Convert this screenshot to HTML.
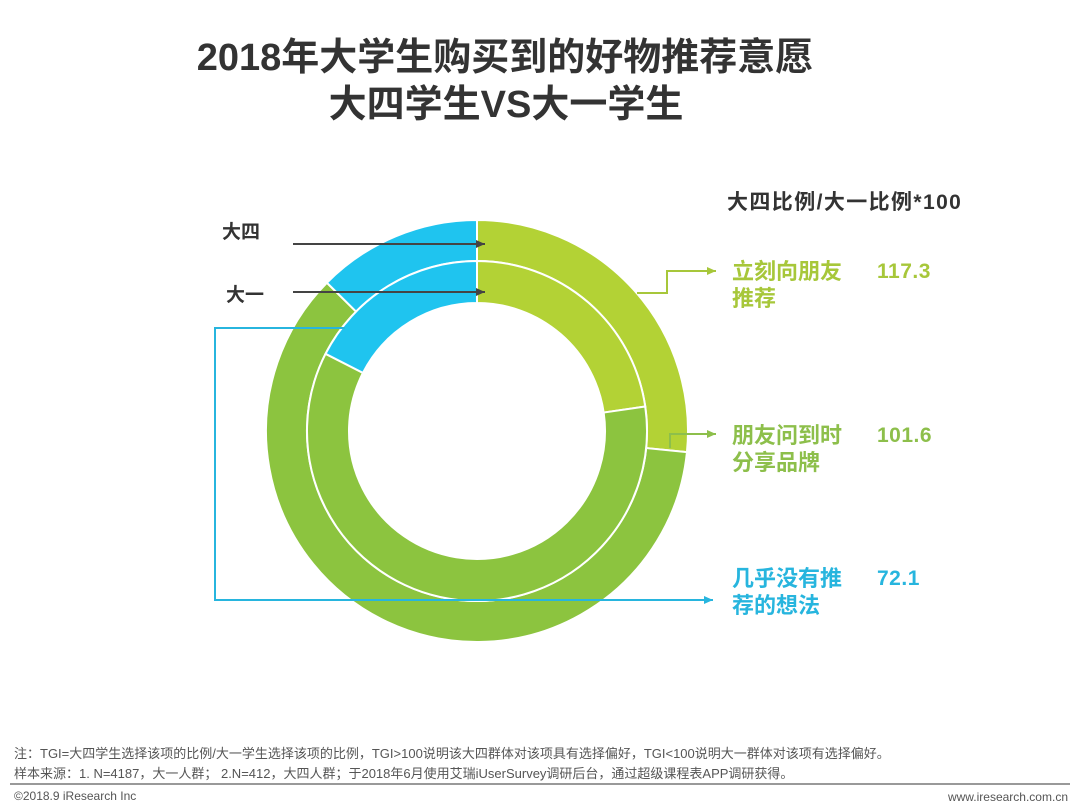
<!DOCTYPE html>
<html><head><meta charset="utf-8">
<style>
body{margin:0;background:#fff;}
#root{position:relative;width:1080px;height:809px;overflow:hidden;font-family:"Liberation Sans","Noto Sans CJK SC",sans-serif;}
.t{position:absolute;white-space:nowrap;}
</style></head>
<body>
<div id="root">
<div class="t" style="left:0;width:1010px;text-align:center;top:26px;font-size:38px;font-weight:bold;color:#333;">2018年大学生购买到的好物推荐意愿</div>
<div class="t" style="left:0;width:1012px;text-align:center;top:73px;font-size:38px;font-weight:bold;color:#333;">大四学生VS大一学生</div>
<div class="t" style="left:727px;top:186px;font-size:21px;letter-spacing:1.4px;font-weight:bold;color:#333;">大四比例/大一比例*100</div>
<div class="t" style="left:222px;top:217px;font-size:19px;font-weight:bold;color:#333;">大四</div>
<div class="t" style="left:226px;top:280px;font-size:19px;font-weight:bold;color:#333;">大一</div>
<svg id="chart" width="1080" height="809" style="position:absolute;left:0;top:0;"></svg>
<div id="labels"></div>
<div class="t" style="left:14px;top:743px;font-size:13px;color:#555;">注：TGI=大四学生选择该项的比例/大一学生选择该项的比例，TGI&gt;100说明该大四群体对该项具有选择偏好，TGI&lt;100说明大一群体对该项有选择偏好。</div>
<div class="t" style="left:14px;top:763px;font-size:13px;color:#555;">样本来源：1. N=4187，大一人群； 2.N=412，大四人群；于2018年6月使用艾瑞iUserSurvey调研后台，通过超级课程表APP调研获得。</div>
<div style="position:absolute;left:10px;top:783px;width:1060px;height:2px;background:#999;"></div>
<div class="t" style="left:14px;top:789px;font-size:12px;color:#555;">©2018.9 iResearch Inc</div>
<div class="t" style="right:12px;top:790px;font-size:12px;color:#555;">www.iresearch.com.cn</div>
</div>
<script>
const categories = ["立刻向朋友推荐", "朋友问到时分享品牌", "几乎没有推荐的想法"];
const labelLine1 = ["立刻向朋友", "朋友问到时", "几乎没有推"];
const labelLine2 = ["推荐", "分享品牌", "荐的想法"];
const seniorShare = [26.6, 60.8, 12.6];
const freshmanShare = [22.7, 59.8, 17.5];
const tgiLabels = ["117.3", "101.6", "72.1"];

const colors = ["#b3d235", "#8cc43f", "#1fc4ef"];
const textColors = ["#a7c73a", "#8dbf4b", "#27b5de"];
const cx = 477, cy = 431;
const svg = document.getElementById('chart');
const NS = 'http://www.w3.org/2000/svg';
function pt(r, a){ return [cx + r*Math.sin(a), cy - r*Math.cos(a)]; }
function arc(r0, r1, a0, a1){
  const large = (a1-a0) > Math.PI ? 1 : 0;
  const p0=pt(r1,a0), p1=pt(r1,a1), p2=pt(r0,a1), p3=pt(r0,a0);
  return `M${p0}A${r1},${r1} 0 ${large} 1 ${p1}L${p2}A${r0},${r0} 0 ${large} 0 ${p3}Z`;
}
function ring(vals, r0, r1, nm){
  const tot = vals.reduce((a,b)=>a+b,0);
  let a = 0;
  vals.forEach((v,i)=>{
    const a1 = a + v/tot*2*Math.PI;
    const p = document.createElementNS(NS,'path');
    p.setAttribute('d', arc(r0,r1,a,a1));
    p.setAttribute('fill', colors[i]);
    p.setAttribute('stroke', '#fff');
    p.setAttribute('stroke-width', '2');
    
    
    svg.appendChild(p);
    a = a1;
  });
}
ring(seniorShare, 170, 211, 'senior');
ring(freshmanShare, 128, 170, 'freshman');

function line(pts, color, nm){
  const pl = document.createElementNS(NS,'polyline');
  pl.setAttribute('points', pts.map(p=>p.join(',')).join(' '));
  pl.setAttribute('fill','none');
  pl.setAttribute('stroke',color);
  pl.setAttribute('stroke-width','2');
  
  
  svg.appendChild(pl);
  const e = pts[pts.length-1];
  const h = document.createElementNS(NS,'polygon');
  h.setAttribute('points', `${e[0]},${e[1]} ${e[0]-9},${e[1]-4} ${e[0]-9},${e[1]+4}`);
  h.setAttribute('fill',color);
  
  
  svg.appendChild(h);
}
line([[293,244],[485,244]], '#444', 'senior-pointer');
line([[293,292],[485,292]], '#444', 'freshman-pointer');
line([[637,293],[667,293],[667,271],[716,271]], textColors[0], 'connector-1');
line([[670,448],[670,434],[716,434]], textColors[1], 'connector-2');
line([[345,328],[215,328],[215,600],[713,600]], '#27b5de', 'connector-3');

const lab = document.getElementById('labels');
const tops = [258, 422, 565];
categories.forEach((c,i)=>{
  const d = document.createElement('div');
  d.className='t';
  
  
  d.style.cssText = `left:732px;top:${tops[i]}px;font-size:22px;font-weight:bold;line-height:27px;color:${textColors[i]};`;
  d.innerHTML = labelLine1[i] + '<br>' + labelLine2[i];
  lab.appendChild(d);
  const v = document.createElement('div');
  v.className='t';
  
  
  v.style.cssText = `left:877px;top:${tops[i]}px;font-size:21px;font-weight:bold;line-height:27px;letter-spacing:0.5px;color:${textColors[i]};`;
  v.textContent = tgiLabels[i];
  lab.appendChild(v);
});
</script>
</body></html>
